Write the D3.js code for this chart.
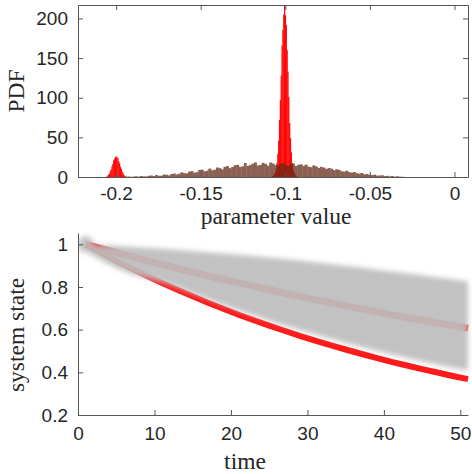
<!DOCTYPE html>
<html lang="en">
<head>
    <meta charset="UTF-8">
    <title>Parameter PDF and system state</title>
    <style>
        body { margin: 0; background: #fff; }
        svg { display: block; }
        .tick text { font-family: "Liberation Sans", Arial, sans-serif; font-size: 19px; fill: #262626; }
        .lbl { font-family: "Liberation Serif", "Times New Roman", serif; font-size: 23.5px; fill: #262626; }
    </style>
</head>
<body>
    <div id="chart"></div>

    <script src="https://d3js.org/d3.v7.min.js"></script>
    <script>
        // ---- data ----
        // broad brown histogram: bin start, bin width, heights
        const brownStart = -0.195;
        const brownWidth = 0.0015;
        const brownHeights = [
            0.2, 0.6, 0.3, 0.5, 0.9, 0.4, 1.2, 0.8, 0.7, 1.5,
            1.9, 1.2, 2.4, 1.6, 1.5, 3.1, 2.8, 2.0, 3.7, 4.4,
            3.2, 4.1, 5.9, 4.8, 4.6, 6.8, 7.4, 5.5, 6.1, 8.8,
            9.4, 7.2, 8.0, 10.6, 8.5, 9.1, 12.0, 11.2, 9.6, 12.9,
            13.8, 11.1, 12.6, 14.9, 15.3, 12.8, 13.5, 17.6, 14.0, 15.1,
            16.8, 18.4, 14.6, 15.2, 17.9, 16.5, 14.3, 18.2, 17.0, 15.0,
            14.9, 16.3, 17.8, 15.1, 14.2, 16.6, 17.1, 13.9, 15.4, 16.0,
            14.2, 15.6, 13.0, 12.4, 14.7, 13.3, 11.5, 12.8, 11.9, 10.2,
            11.3, 10.5, 8.6, 9.7, 9.0, 7.2, 6.8, 7.9, 6.1, 5.6,
            6.3, 4.8, 4.2, 5.0, 3.4, 3.9, 2.7, 2.4, 3.0, 1.7,
            1.9, 2.2, 1.1, 1.5, 0.8, 1.2, 0.5, 0.9, 0.4, 0.3
        ];
        // narrow red peaks
        const redWidth = 0.0005;
        const redMainStart = -0.10775;
        const redMainHeights = [1, 2, 4, 6, 9.5, 18, 29, 46, 72, 97, 128, 166, 186, 205, 216,
            204, 192, 160, 133, 101, 68, 49, 31, 17, 10, 6, 4, 2, 1];
        const redSmallStart = -0.20575;
        const redSmallHeights = [0.6, 1.8, 3.0, 4.2, 7.5, 9.6, 13.8, 16.4, 21.0, 22.9, 25.1, 26.0,
            24.7, 23.8, 19.9, 17.4, 12.8, 10.3, 6.6, 4.8, 2.6, 1.4, 0.8];

        const pdfTicks = [0, 50, 100, 150, 200];
        const paramTicks = [-0.2, -0.15, -0.1, -0.05, 0];

        // trajectories
        const times = [1, 3, 5, 7, 9, 11, 13, 15, 17, 19, 21, 23, 25, 27, 29, 31, 33, 35, 37, 39, 41, 43, 45, 47, 49, 51];
        const stateTrue = [1, 0.961, 0.923, 0.887, 0.852, 0.819, 0.787, 0.756, 0.726, 0.698, 0.670, 0.644, 0.619,
            0.595, 0.571, 0.549, 0.527, 0.507, 0.487, 0.468, 0.449, 0.432, 0.415, 0.399, 0.383, 0.368];
        const stateMean = [1, 0.980, 0.961, 0.942, 0.923, 0.905, 0.887, 0.869, 0.852, 0.835, 0.819, 0.803, 0.787,
            0.771, 0.756, 0.741, 0.726, 0.712, 0.698, 0.684, 0.670, 0.657, 0.644, 0.631, 0.619, 0.607];
        const bandLow = [0.965, 0.925, 0.889, 0.860, 0.840, 0.822, 0.797, 0.770, 0.742, 0.716, 0.690, 0.666, 0.642,
            0.620, 0.598, 0.577, 0.557, 0.538, 0.519, 0.501, 0.484, 0.467, 0.451, 0.436, 0.421, 0.407];
        const bandHigh = [1, 0.997, 0.993, 0.989, 0.984, 0.979, 0.974, 0.969, 0.963, 0.957, 0.951, 0.945, 0.938,
            0.931, 0.924, 0.916, 0.908, 0.900, 0.891, 0.882, 0.873, 0.864, 0.855, 0.845, 0.836, 0.826];

        const stateTicks = [0.2, 0.4, 0.6, 0.8, 1];
        const timeTicks = [0, 10, 20, 30, 40, 50];

        // ---- drawing ----
        const W = 472, H = 474;
        const svg = d3.select("#chart").append("svg").attr("width", W).attr("height", H);

        const defs = svg.append("defs");
        defs.append("filter").attr("id", "soft")
            .attr("x", "-10%").attr("y", "-30%").attr("width", "120%").attr("height", "160%")
            .append("feGaussianBlur").attr("stdDeviation", 2.5);
        defs.append("clipPath").attr("id", "clipBottom")
            .append("rect").attr("x", 78).attr("y", 0).attr("width", 394).attr("height", 415);

        // top panel
        const box1 = { left: 78, right: 468, top: 5, bottom: 177 };
        const x1 = d3.scaleLinear().domain([-0.2225, 0.008]).range([box1.left, box1.right]);
        const y1 = d3.scaleLinear().domain([0, 217]).range([box1.bottom, box1.top]);

        // bars are opaque inside the group, the group carries the transparency
        function bars(start, width, heights, fill, opacity) {
            const g = svg.append("g").attr("opacity", opacity);
            g.selectAll(null)
                .data(heights)
                .enter()
                .append("rect")
                .attr("x", (d, i) => x1(start + i * width))
                .attr("width", x1(start + width) - x1(start) + 0.4)
                .attr("y", d => y1(d))
                .attr("height", d => y1(0) - y1(d))
                .attr("fill", fill);
        }

        bars(redSmallStart, redWidth, redSmallHeights, "#ff0000", 0.97);
        bars(redMainStart, redWidth, redMainHeights, "#ff0000", 0.97);
        bars(brownStart, brownWidth, brownHeights, "rgb(98,42,22)", 0.74);

        svg.append("g")
            .attr("transform", `translate(0,${box1.bottom})`)
            .call(d3.axisBottom(x1).tickValues(paramTicks).tickSizeInner(-5).tickSizeOuter(0).tickPadding(10)
                .tickFormat(d => d === 0 ? "0" : String(d)));
        svg.append("g")
            .attr("transform", `translate(${box1.left},0)`)
            .call(d3.axisLeft(y1).tickValues(pdfTicks).tickSizeInner(-5).tickSizeOuter(0).tickPadding(10));
        svg.append("g")
            .attr("transform", `translate(0,${box1.top})`)
            .call(d3.axisTop(x1).tickValues(paramTicks).tickSizeInner(-5).tickSizeOuter(0).tickFormat(""));
        svg.append("g")
            .attr("transform", `translate(${box1.right},0)`)
            .call(d3.axisRight(y1).tickValues(pdfTicks).tickSizeInner(-5).tickSizeOuter(0).tickFormat(""));

        svg.append("text").attr("class", "lbl")
            .attr("x", (box1.left + box1.right) / 2 + 3).attr("y", 224)
            .attr("text-anchor", "middle").text("parameter value");
        svg.append("text").attr("class", "lbl")
            .attr("transform", `translate(24,${(box1.top + box1.bottom) / 2}) rotate(-90)`)
            .attr("text-anchor", "middle").text("PDF");

        // bottom panel
        const box2 = { left: 78, right: 468, top: 233, bottom: 415 };
        const x2 = d3.scaleLinear().domain([0, 51]).range([box2.left, box2.right]);
        const y2 = d3.scaleLinear().domain([0.2, 1.053]).range([box2.bottom, box2.top]);

        const idx = d3.range(times.length);
        const line = d3.line().x(i => x2(times[i]));
        const gBot = svg.append("g").attr("clip-path", "url(#clipBottom)");

        gBot.append("path")
            .attr("d", line.y(i => y2(stateTrue[i]))(idx))
            .attr("fill", "none").attr("stroke", "#ff1a1a").attr("stroke-width", 6);
        gBot.append("path")
            .attr("d", line.y(i => y2(stateMean[i]))(idx))
            .attr("fill", "none").attr("stroke", "#ff1a1a").attr("stroke-width", 7);

        const gBand = gBot.append("g").attr("filter", "url(#soft)").attr("opacity", 0.93);
        gBand.append("path")
            .attr("d", d3.area()
                .x(i => x2(times[i]))
                .y0(i => y2(bandLow[i]))
                .y1(i => y2(bandHigh[i]))(idx))
            .attr("fill", "#bebebe");
        gBand.append("circle")
            .attr("cx", x2(times[0])).attr("cy", y2(bandHigh[0]))
            .attr("r", 8).attr("fill", "#bebebe");

        svg.append("g")
            .attr("transform", `translate(0,${box2.bottom})`)
            .call(d3.axisBottom(x2).tickValues(timeTicks).tickSizeInner(-5).tickSizeOuter(0).tickPadding(12));
        svg.append("g")
            .attr("transform", `translate(${box2.left},0)`)
            .call(d3.axisLeft(y2).tickValues(stateTicks).tickSizeInner(-5).tickSizeOuter(0).tickPadding(10)
                .tickFormat(d3.format("~g")));

        svg.append("text").attr("class", "lbl")
            .attr("x", 245).attr("y", 469)
            .attr("text-anchor", "middle").text("time");
        svg.append("text").attr("class", "lbl")
            .attr("transform", `translate(24,335) rotate(-90)`)
            .attr("text-anchor", "middle").text("system state");

        svg.selectAll(".domain").attr("stroke", "#555").attr("stroke-width", 1);
        svg.selectAll(".tick line").attr("stroke", "#555");
    </script>
</body>
</html>
